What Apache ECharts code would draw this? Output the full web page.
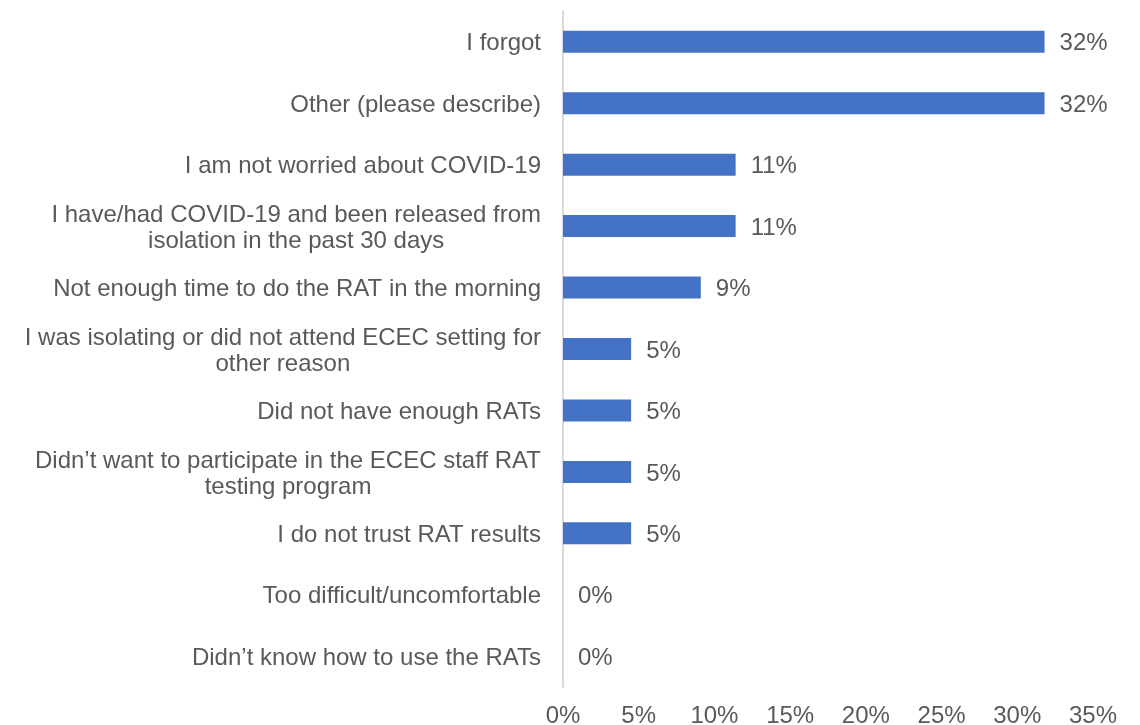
<!DOCTYPE html>
<html>
<head>
<meta charset="utf-8">
<script src="https://cdn.jsdelivr.net/npm/echarts@6/dist/echarts.min.js"></script>
<style>
  html, body { margin: 0; padding: 0; background: #ffffff; }
  #chart { width: 1140px; height: 725px; }
</style>
</head>
<body>
<div id="chart"></div>
<script>
// Reasons for not testing, top to bottom
const categories = [
  'I forgot',
  'Other (please describe)',
  'I am not worried about COVID-19',
  'I have/had COVID-19 and been released from\nisolation in the past 30 days',
  'Not enough time to do the RAT in the morning',
  'I was isolating or did not attend ECEC setting for\nother reason',
  'Did not have enough RATs',
  'Didn\u2019t want to participate in the ECEC staff RAT\ntesting program',
  'I do not trust RAT results',
  'Too difficult/uncomfortable',
  'Didn\u2019t know how to use the RATs'
];
// Share of respondents (%)
const shares = [31.8, 31.8, 11.4, 11.4, 9.1, 4.5, 4.5, 4.5, 4.5, 0, 0];
// Value axis ticks (%)
const xTicks = [0, 5, 10, 15, 20, 25, 30, 35];

const textColor = '#595959';
const fontFamily = '"Liberation Sans", Arial, sans-serif';
const fontSize = 24;

const chart = echarts.init(document.getElementById('chart'));
chart.setOption({
  animation: false,
  grid: { left: 563, right: 47, top: 11, bottom: 38, containLabel: false, outerBoundsMode: 'none' },
  xAxis: {
    type: 'value',
    min: xTicks[0],
    max: xTicks[xTicks.length - 1],
    interval: xTicks[1] - xTicks[0],
    axisLine: { show: false },
    axisTick: { show: false },
    splitLine: { show: false },
    axisLabel: {
      margin: 17,
      color: textColor,
      fontSize: fontSize,
      fontFamily: fontFamily,
      formatter: v => v + '%'
    }
  },
  yAxis: {
    type: 'category',
    inverse: true,
    data: categories,
    axisLine: { show: true, lineStyle: { color: '#d9d9d9', width: 2 } },
    axisTick: { show: false },
    axisLabel: {
      margin: 22,
      color: textColor,
      fontSize: fontSize,
      fontFamily: fontFamily,
      lineHeight: 26,
      padding: [4, 0, 0, 0],
      formatter: v => v.split('\n').map(s => '{c|' + s + '}').join('\n'),
      rich: {
        c: { align: 'center', color: textColor, fontSize: fontSize, fontFamily: fontFamily, lineHeight: 26 }
      }
    }
  },
  series: [{
    type: 'bar',
    data: shares,
    barWidth: 22,
    itemStyle: { color: '#4472C4' },
    label: {
      show: true,
      position: 'right',
      distance: 15,
      offset: [0, 2],
      color: textColor,
      fontSize: fontSize,
      fontFamily: fontFamily,
      formatter: p => Math.round(p.value) + '%'
    }
  }]
});
</script>
</body>
</html>
